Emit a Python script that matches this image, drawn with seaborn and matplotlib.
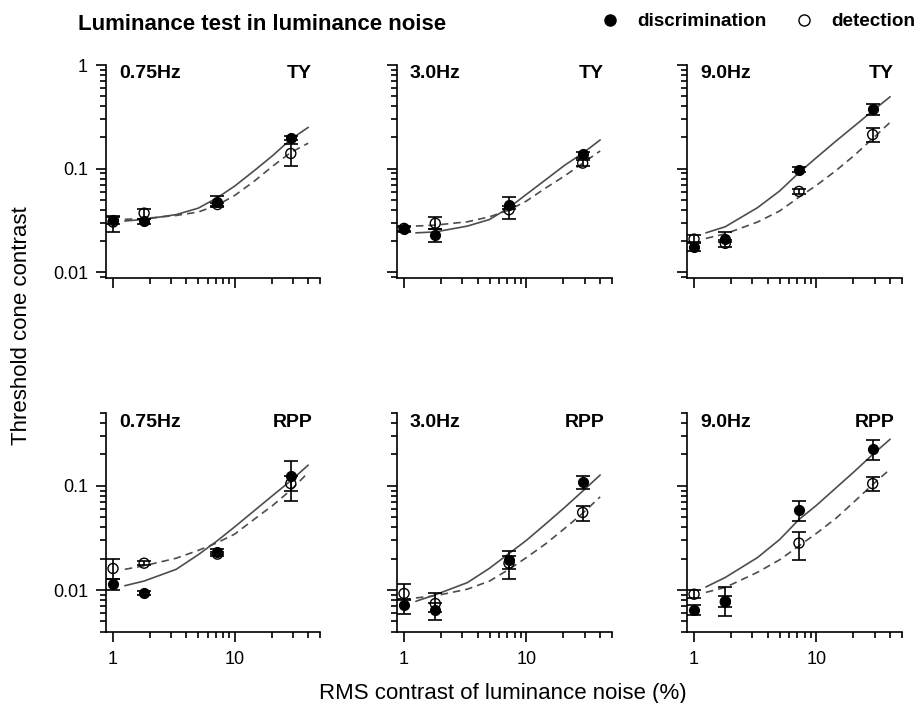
import numpy as np
import pandas as pd
import matplotlib
matplotlib.use("Agg")
import matplotlib.pyplot as plt
from matplotlib.ticker import LogLocator, FixedLocator, FixedFormatter, NullFormatter
from matplotlib.lines import Line2D
import seaborn as sns

# ---------------- data ----------------
x_noise = [1, 1.8, 7.2, 28.8]

# TY, 0.75 Hz
ty_075_disc = [0.032, 0.031, 0.048, 0.198]
ty_075_disc_lo = [0.029, 0.0295, 0.044, 0.19]
ty_075_disc_hi = [0.0352, 0.0325, 0.054, 0.205]
ty_075_det = [0.0305, 0.0372, 0.045, 0.14]
ty_075_det_lo = [0.0247, 0.033, 0.043, 0.106]
ty_075_det_hi = [0.034, 0.041, 0.047, 0.174]
# TY, 3.0 Hz
ty_30_disc = [0.026, 0.023, 0.0448, 0.1375]
ty_30_disc_lo = [0.0245, 0.0195, 0.041, 0.128]
ty_30_disc_hi = [0.0275, 0.026, 0.0531, 0.145]
ty_30_det = [0.0265, 0.0297, 0.0401, 0.113]
ty_30_det_lo = [0.025, 0.026, 0.0328, 0.106]
ty_30_det_hi = [0.028, 0.0345, 0.044, 0.122]
# TY, 9.0 Hz
ty_90_disc = [0.0177, 0.0209, 0.0977, 0.375]
ty_90_disc_lo = [0.016, 0.0195, 0.093, 0.328]
ty_90_disc_hi = [0.0195, 0.0243, 0.103, 0.425]
ty_90_det = [0.0209, 0.019, 0.0603, 0.213]
ty_90_det_lo = [0.019, 0.0175, 0.057, 0.181]
ty_90_det_hi = [0.023, 0.0205, 0.0635, 0.249]
# RPP, 0.75 Hz
rpp_075_disc = [0.0114, 0.00933, 0.0234, 0.125]
rpp_075_disc_lo = [0.0101, 0.0089, 0.0222, 0.09]
rpp_075_disc_hi = [0.0128, 0.0098, 0.0246, 0.174]
rpp_075_det = [0.0161, 0.0181, 0.0221, 0.105]
rpp_075_det_lo = [0.0128, 0.0172, 0.021, 0.0718]
rpp_075_det_hi = [0.0198, 0.019, 0.0232, 0.125]
# RPP, 3.0 Hz
rpp_30_disc = [0.00721, 0.00641, 0.0195, 0.109]
rpp_30_disc_lo = [0.00586, 0.00514, 0.016, 0.093]
rpp_30_disc_hi = [0.0082, 0.0075, 0.0238, 0.125]
rpp_30_det = [0.00927, 0.00742, 0.0181, 0.0555]
rpp_30_det_lo = [0.008, 0.0062, 0.0127, 0.0455]
rpp_30_det_hi = [0.0114, 0.00946, 0.021, 0.0642]
# RPP, 9.0 Hz
rpp_90_disc = [0.00641, 0.00787, 0.0588, 0.225]
rpp_90_disc_lo = [0.0058, 0.00565, 0.0462, 0.176]
rpp_90_disc_hi = [0.0072, 0.0106, 0.0718, 0.275]
rpp_90_det = [0.00912, 0.0077, 0.0282, 0.105]
rpp_90_det_lo = [0.0083, 0.0068, 0.0195, 0.0895]
rpp_90_det_hi = [0.01, 0.0088, 0.0362, 0.122]

# fitted curves
fit_x = [1.25, 1.8, 3.3, 5, 7.2, 10, 14.5, 20.5, 28.8, 40]
ty_075_fit_disc = [0.0312, 0.0324, 0.036, 0.0415, 0.0525, 0.068, 0.096, 0.134, 0.192, 0.25]
ty_075_fit_det = [0.0324, 0.033, 0.0353, 0.0381, 0.0445, 0.0552, 0.076, 0.106, 0.143, 0.176]
ty_30_fit_disc = [0.024, 0.0245, 0.0279, 0.0323, 0.042, 0.0565, 0.0788, 0.1077, 0.1406, 0.189]
ty_30_fit_det = [0.0279, 0.0285, 0.0307, 0.0343, 0.0398, 0.0487, 0.0655, 0.085, 0.1127, 0.148]
ty_90_fit_disc = [0.024, 0.0275, 0.042, 0.0608, 0.0914, 0.1277, 0.1853, 0.259, 0.361, 0.494]
ty_90_fit_det = [0.0212, 0.0235, 0.0305, 0.039, 0.053, 0.069, 0.096, 0.135, 0.195, 0.28]
rpp_075_fit_disc = [0.011, 0.0122, 0.0158, 0.0218, 0.0298, 0.0405, 0.058, 0.081, 0.112, 0.158]
rpp_075_fit_det = [0.0158, 0.0171, 0.0202, 0.024, 0.0285, 0.0345, 0.048, 0.065, 0.091, 0.134]
rpp_30_fit_disc = [0.0078, 0.009, 0.0118, 0.0162, 0.0224, 0.0300, 0.0435, 0.062, 0.089, 0.127]
rpp_30_fit_det = [0.0084, 0.0088, 0.0102, 0.0122, 0.0158, 0.0205, 0.028, 0.039, 0.0545, 0.0784]
rpp_90_fit_disc = [0.0107, 0.0132, 0.0205, 0.0305, 0.0475, 0.065, 0.096, 0.138, 0.2, 0.28]
rpp_90_fit_det = [0.0095, 0.0106, 0.0148, 0.0195, 0.0265, 0.035, 0.049, 0.071, 0.103, 0.1445]

freq_labels = ["0.75Hz", "3.0Hz", "9.0Hz"]
observers = ["TY", "RPP"]
x_tick_labels = ["1", "10"]
title = "Luminance test in luminance noise"
legend_labels = ["discrimination", "detection"]
x_label = "RMS contrast of luminance noise (%)"
y_label = "Threshold cone contrast"

panels = [
    [  # TY row
        (ty_075_disc, ty_075_disc_lo, ty_075_disc_hi, ty_075_det, ty_075_det_lo, ty_075_det_hi,
         ty_075_fit_disc, ty_075_fit_det),
        (ty_30_disc, ty_30_disc_lo, ty_30_disc_hi, ty_30_det, ty_30_det_lo, ty_30_det_hi,
         ty_30_fit_disc, ty_30_fit_det),
        (ty_90_disc, ty_90_disc_lo, ty_90_disc_hi, ty_90_det, ty_90_det_lo, ty_90_det_hi,
         ty_90_fit_disc, ty_90_fit_det),
    ],
    [  # RPP row
        (rpp_075_disc, rpp_075_disc_lo, rpp_075_disc_hi, rpp_075_det, rpp_075_det_lo, rpp_075_det_hi,
         rpp_075_fit_disc, rpp_075_fit_det),
        (rpp_30_disc, rpp_30_disc_lo, rpp_30_disc_hi, rpp_30_det, rpp_30_det_lo, rpp_30_det_hi,
         rpp_30_fit_disc, rpp_30_fit_det),
        (rpp_90_disc, rpp_90_disc_lo, rpp_90_disc_hi, rpp_90_det, rpp_90_det_lo, rpp_90_det_hi,
         rpp_90_fit_disc, rpp_90_fit_det),
    ],
]

# ---------------- style ----------------
sns.set_style("ticks")
plt.rcParams['font.family'] = ['Liberation Sans', 'DejaVu Sans']
plt.rcParams['axes.linewidth'] = 1.2
plt.rcParams['text.color'] = 'black'
plt.rcParams['axes.labelcolor'] = 'black'
plt.rcParams['xtick.color'] = 'black'
plt.rcParams['ytick.color'] = 'black'
plt.rcParams['axes.edgecolor'] = 'black'

W, H = 918, 703
fig = plt.figure(figsize=(W / 100, H / 100), dpi=100)

col_px = [(106, 214), (397, 215), (687, 215)]
row_px = [(65, 278), (413, 631.5)]
ylims = [(0.0088, 1.0), (0.004, 0.5)]
xlim = (0.876, 50)
fit_color = "#4d4d4d"

for r in range(2):
    for c in range(3):
        left, width = col_px[c]
        top, bottom = row_px[r]
        ax = fig.add_axes([left / W, 1 - bottom / H, width / W, (bottom - top) / H])
        ax.set_xscale("log")
        ax.set_yscale("log")
        (disc, dlo, dhi, det, tlo, thi, fdisc, fdet) = panels[r][c]

        sns.lineplot(x=fit_x, y=fdisc, ax=ax, color=fit_color, linewidth=1.2,
                     estimator=None, sort=False)
        sns.lineplot(x=fit_x, y=fdet, ax=ax, color=fit_color, linewidth=1.2,
                     estimator=None, sort=False, linestyle=(0, (4.5, 3)))

        disc_a = np.array(disc); det_a = np.array(det)
        ax.errorbar(x_noise, disc_a, yerr=[disc_a - np.array(dlo), np.array(dhi) - disc_a],
                    fmt="none", ecolor="black", elinewidth=1.2, capsize=5, capthick=1.2, zorder=2)
        ax.errorbar(x_noise, det_a, yerr=[det_a - np.array(tlo), np.array(thi) - det_a],
                    fmt="none", ecolor="black", elinewidth=1.2, capsize=5, capthick=1.2, zorder=2)
        sns.scatterplot(x=x_noise, y=disc, ax=ax, color="black", s=52,
                        edgecolor="black", linewidth=0.8, zorder=3)
        sns.scatterplot(x=x_noise, y=det, ax=ax, marker="o", s=52,
                        facecolor="none", edgecolor="black", linewidth=1.0, zorder=4)

        ax.set_xlim(*xlim)
        ax.set_ylim(*ylims[r])
        ax.xaxis.set_major_locator(FixedLocator([1, 10]))
        ax.xaxis.set_minor_locator(FixedLocator([2, 3, 4, 5, 6, 7, 8, 9, 20, 30, 40, 50]))
        ax.xaxis.set_minor_formatter(NullFormatter())
        ax.yaxis.set_major_locator(LogLocator(base=10, numticks=10))
        ax.yaxis.set_minor_locator(LogLocator(base=10, subs=np.arange(2, 10), numticks=20))
        ax.yaxis.set_minor_formatter(NullFormatter())
        if r == 1:
            ax.xaxis.set_major_formatter(FixedFormatter(x_tick_labels))
        else:
            ax.xaxis.set_major_formatter(NullFormatter())
        if c == 0:
            ax.yaxis.set_major_formatter(plt.FuncFormatter(lambda v, p: f"{v:g}"))
        else:
            ax.yaxis.set_major_formatter(NullFormatter())
        ax.tick_params(which="major", length=7, width=1.2, direction="out",
                       labelsize=13, pad=6, color="black", labelcolor="black")
        ax.tick_params(which="minor", length=4.3, width=1.2, direction="out", color="black")
        ax.tick_params(axis="x", which="major", pad=7)
        sns.despine(ax=ax)
        for sp in ax.spines.values():
            sp.set_color("black")

        ax.text(13 / width, 0.937, freq_labels[c], transform=ax.transAxes, color="black",
                fontsize=14, fontweight="bold", va="baseline", ha="left")
        ax.text(1 - 8 / width, 0.937, observers[r], transform=ax.transAxes, color="black",
                fontsize=14, fontweight="bold", va="baseline", ha="right")
        ax.set_xlabel("")
        ax.set_ylabel("")

# titles, legend, axis labels
fig.text(78 / W, 1 - 30 / H, title, fontsize=16, fontweight="bold", va="baseline", ha="left",
         color="black")
fig.add_artist(Line2D([610 / W], [1 - 20 / H], marker="o", markersize=8, color="black",
                      linestyle="none", transform=fig.transFigure))
fig.add_artist(Line2D([804 / W], [1 - 20 / H], marker="o", markersize=8, markerfacecolor="none",
                      markeredgecolor="black", markeredgewidth=1.0, linestyle="none",
                      transform=fig.transFigure))
fig.text(637 / W, 1 - 26 / H, legend_labels[0], fontsize=13.6, fontweight="bold",
         va="baseline", ha="left", color="black")
fig.text(831 / W, 1 - 26 / H, legend_labels[1], fontsize=13.6, fontweight="bold",
         va="baseline", ha="left", color="black")
fig.text(21.7 / W, 1 - 325.5 / H, y_label, fontsize=16, rotation=90, ha="center", va="center",
         color="black")
fig.text(503 / W, 1 - 699 / H, x_label, fontsize=16, ha="center", va="baseline", color="black")

fig.savefig("out.png", dpi=100)
